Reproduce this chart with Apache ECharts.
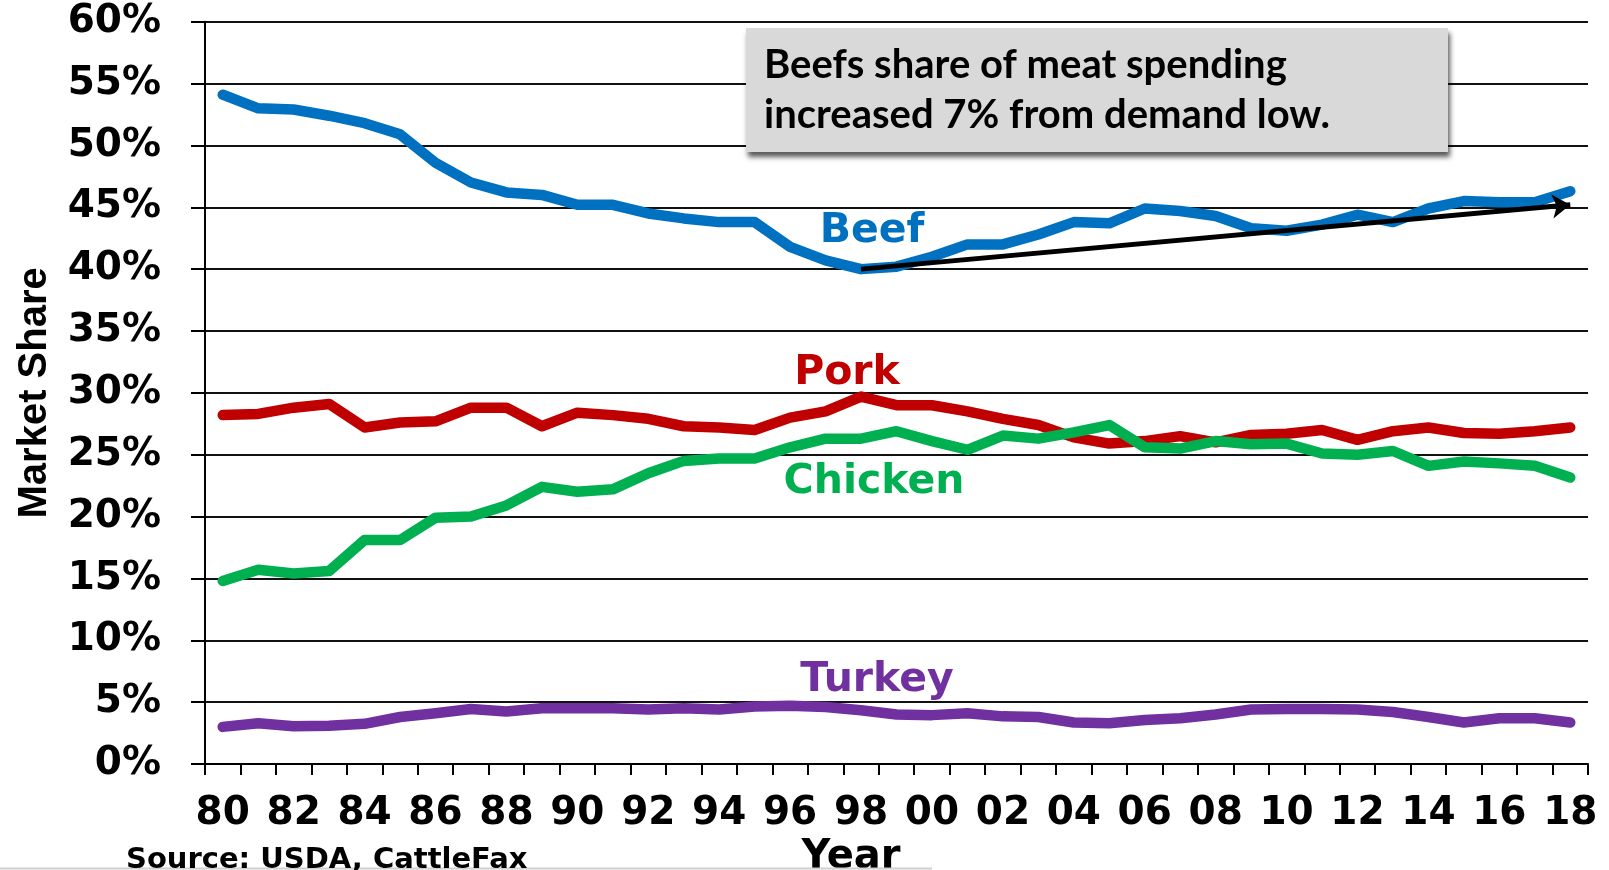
<!DOCTYPE html>
<html>
<head>
<meta charset="utf-8">
<script src="https://cdn.jsdelivr.net/npm/echarts@6/dist/echarts.min.js"></script>
<style>
html,body{margin:0;padding:0;background:#fff;}
#chart{width:1609px;height:870px;}
</style>
</head>
<body>
<div id="chart"></div>
<script>
const years = ['80','81','82','83','84','85','86','87','88','89',
               '90','91','92','93','94','95','96','97','98','99',
               '00','01','02','03','04','05','06','07','08','09',
               '10','11','12','13','14','15','16','17','18'];
const beef = [54.1, 53.0, 52.9, 52.4, 51.8, 50.9, 48.6, 47.0, 46.2, 46.0,
              45.2, 45.2, 44.5, 44.1, 43.8, 43.8, 41.8, 40.7, 40.0, 40.2,
              41.0, 42.0, 42.0, 42.8, 43.8, 43.7, 44.9, 44.7, 44.3, 43.3,
              43.1, 43.6, 44.4, 43.8, 44.9, 45.5, 45.4, 45.4, 46.3];
const pork = [28.2, 28.3, 28.8, 29.1, 27.2, 27.6, 27.7, 28.8, 28.8, 27.3,
              28.4, 28.2, 27.9, 27.3, 27.2, 27.0, 28.0, 28.5, 29.7, 29.0,
              29.0, 28.5, 27.9, 27.4, 26.4, 25.9, 26.1, 26.5, 26.0, 26.6,
              26.7, 27.0, 26.2, 26.9, 27.2, 26.75, 26.7, 26.9, 27.2];
const chicken = [14.8, 15.7, 15.4, 15.6, 18.1, 18.1, 19.9, 20.0, 20.9, 22.4,
                 22.0, 22.2, 23.5, 24.5, 24.7, 24.7, 25.6, 26.3, 26.3, 26.9,
                 26.1, 25.4, 26.55, 26.3, 26.8, 27.4, 25.6, 25.5, 26.1, 25.85,
                 25.9, 25.1, 25.0, 25.3, 24.1, 24.45, 24.3, 24.1, 23.15];
const turkey = [3.0, 3.3, 3.05, 3.1, 3.25, 3.8, 4.1, 4.45, 4.25, 4.5,
                4.5, 4.5, 4.4, 4.5, 4.4, 4.65, 4.7, 4.6, 4.35, 4.0,
                3.95, 4.1, 3.85, 3.8, 3.35, 3.3, 3.55, 3.7, 4.0, 4.4,
                4.45, 4.45, 4.4, 4.2, 3.8, 3.35, 3.7, 3.7, 3.35];
const trendStart = ['98', 40.0];
const trendEnd = ['18', 45.2];
const seriesNames = ['Beef', 'Pork', 'Chicken', 'Turkey'];
const noteLines = ['Beefs share of meat spending', 'increased 7% from demand low.'];
const sourceText = 'Source: USDA, CattleFax';

const colors = {Beef:'#0070C0', Pork:'#C00000', Chicken:'#00B050', Turkey:'#7030A0'};
const chart = echarts.init(document.getElementById('chart'));

function lineSeries(name, data, extra) {
  return Object.assign({
    name: name, type: 'line', data: data, symbol: 'none', showSymbol: false, smooth: false,
    lineStyle: {color: colors[name], width: 10.5, cap: 'round', join: 'round'},
    itemStyle: {color: colors[name]},
    emphasis: {disabled: true}, animation: false
  }, extra || {});
}

const seriesLabelFont = 'bold 41px "DejaVu Sans"';
const noteFont = 'bold 40px Lato';

chart.setOption({
  animation: false,
  backgroundColor: '#fff',
  grid: {left: 205, right: 21, top: 21.7, bottom: 106, containLabel: false, outerBoundsMode: 'none'},
  xAxis: {
    type: 'category', data: years, boundaryGap: true,
    axisLine: {show: true, lineStyle: {color: '#000', width: 2}},
    axisTick: {show: true, interval: 0, length: 11, lineStyle: {color: '#000', width: 2}},
    axisLabel: {interval: 1, margin: 30, color: '#000', fontFamily: 'DejaVu Sans', fontWeight: 'bold', fontSize: 39},
    splitLine: {show: false},
    name: 'Year', nameLocation: 'middle', nameGap: 71,
    nameTextStyle: {color: '#000', fontFamily: 'DejaVu Sans', fontWeight: 'bold', fontSize: 40, padding: [0, 91, 0, 0]}
  },
  yAxis: {
    type: 'value', min: 0, max: 60, interval: 5,
    axisLine: {show: true, lineStyle: {color: '#000', width: 2}},
    axisTick: {show: true, length: 14, lineStyle: {color: '#000', width: 2}},
    axisLabel: {formatter: '{value}%', margin: 44, color: '#000', fontFamily: 'DejaVu Sans', fontWeight: 'bold', fontSize: 39},
    splitLine: {show: true, lineStyle: {color: '#111', width: 2}},
    name: 'Market Share', nameLocation: 'middle', nameRotate: 90, nameGap: 150,
    nameTextStyle: {color: '#000', fontFamily: 'Liberation Sans', fontWeight: 'bold', fontSize: 40}
  },
  series: [
    lineSeries('Turkey', turkey),
    lineSeries('Pork', pork),
    lineSeries('Chicken', chicken),
    lineSeries('Beef', beef, {
      markLine: {
        silent: true, animation: false,
        symbol: ['none', 'arrow'], symbolSize: 18,
        label: {show: false},
        lineStyle: {color: '#000', width: 5, type: 'solid'},
        emphasis: {disabled: true},
        data: [[{coord: trendStart, symbol: 'none'}, {coord: trendEnd, symbol: 'arrow', symbolSize: 18}]]
      }
    })
  ],
  graphic: [
    {type: 'rect', z: 50, shape: {x: 746, y: 28, width: 702, height: 124},
     style: {fill: '#d9d9d9', shadowBlur: 5, shadowOffsetX: 2, shadowOffsetY: 5, shadowColor: 'rgba(0,0,0,0.65)'}},
    {type: 'text', z: 51, x: 764, y: 65, style: {text: noteLines[0], fill: '#000', font: noteFont, verticalAlign: 'middle'}},
    {type: 'text', z: 51, x: 764, y: 115, style: {text: noteLines[1], fill: '#000', font: noteFont, verticalAlign: 'middle'}},
    {type: 'text', z: 60, x: 872, y: 231, style: {text: seriesNames[0], fill: colors.Beef, align: 'center', verticalAlign: 'middle', font: seriesLabelFont}},
    {type: 'text', z: 60, x: 847, y: 373, style: {text: seriesNames[1], fill: colors.Pork, align: 'center', verticalAlign: 'middle', font: seriesLabelFont}},
    {type: 'text', z: 60, x: 874, y: 482, style: {text: seriesNames[2], fill: colors.Chicken, align: 'center', verticalAlign: 'middle', font: seriesLabelFont}},
    {type: 'text', z: 60, x: 877, y: 680, style: {text: seriesNames[3], fill: colors.Turkey, align: 'center', verticalAlign: 'middle', font: seriesLabelFont}},
    {type: 'text', z: 60, x: 126, y: 860, style: {text: sourceText, fill: '#000', verticalAlign: 'middle', font: 'bold 29px "DejaVu Sans"'}},
    {type: 'line', z: 40, shape: {x1: 0, y1: 868.5, x2: 932, y2: 868.5}, style: {stroke: '#d0d0d0', lineWidth: 2}}
  ]
});
</script>
</body>
</html>
